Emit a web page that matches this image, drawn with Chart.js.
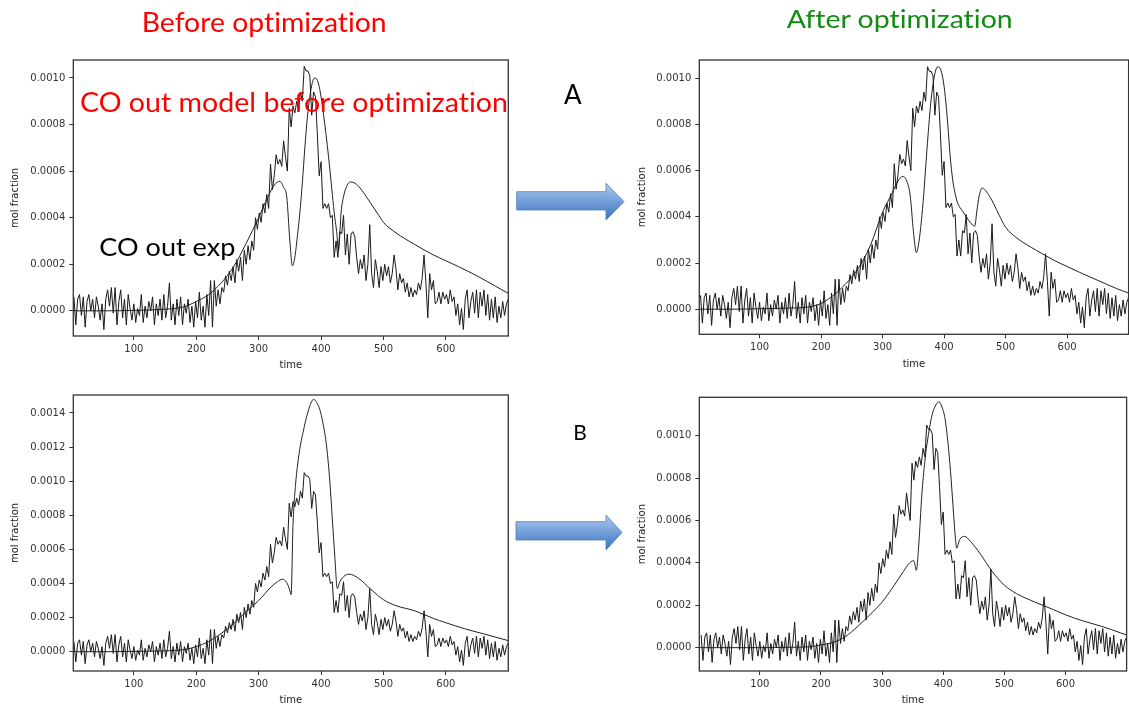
<!DOCTYPE html>
<html lang="en">
<head>
<meta charset="UTF-8">
<title>CO out model before / after optimization</title>
<script src="https://cdn.jsdelivr.net/npm/chart.js"></script>
<style>
  body { margin: 0; background: #fff; overflow: hidden; }
  #page { position: relative; width: 1129px; height: 707px; overflow: hidden; background: #fff; }
  canvas { position: absolute; }
  svg { position: absolute; left: 0; top: 0; pointer-events: none; }
  svg text { font-family: Lato, "Open Sans", sans-serif; font-variant-ligatures: none; font-feature-settings: "liga" 0; }
</style>
</head>
<body>
<div id="page">
  <canvas id="chartA1" width="520" height="330" style="left:0;top:50px"></canvas>
  <canvas id="chartA2" width="540" height="330" style="left:600px;top:50px"></canvas>
  <canvas id="chartB1" width="520" height="322" style="left:0;top:385px"></canvas>
  <canvas id="chartB2" width="540" height="322" style="left:600px;top:385px"></canvas>

  <svg width="1129" height="707">
    <defs>
      <linearGradient id="arrowFill" x1="0" y1="0" x2="0" y2="1">
        <stop offset="0" stop-color="#b0cbee"/>
        <stop offset="0.45" stop-color="#77a2dc"/>
        <stop offset="1" stop-color="#3e72bb"/>
      </linearGradient>
    </defs>
    <path d="M516.7,191.7 H606 V183.3 L624,201.7 L606,220 V210 H516.7 Z" fill="url(#arrowFill)" stroke="#4a7ebb" stroke-width="0.8"/>
    <path d="M516,521.7 H606 V515 L622,532.5 L606,550 V540 H516 Z" fill="url(#arrowFill)" stroke="#4a7ebb" stroke-width="0.8"/>

    <text x="141.7" y="32.3" font-size="27" fill="#ff0000" textLength="245" lengthAdjust="spacingAndGlyphs">Before optimization</text>
    <text x="786.7" y="28.3" font-size="25" fill="#108c10" textLength="226" lengthAdjust="spacingAndGlyphs">After optimization</text>
    <text x="80" y="111.7" font-size="26" fill="#ff0000" textLength="428" lengthAdjust="spacingAndGlyphs">CO out model before optimization</text>
    <text x="99.3" y="256" font-size="25" fill="#000" textLength="136" lengthAdjust="spacingAndGlyphs">CO out exp</text>
    <text x="564" y="104" font-size="26" fill="#000">A</text>
    <text x="573.3" y="440" font-size="21" fill="#000">B</text>
  </svg>
</div>

<script>
  // CO out exp, mol fraction x 1e-4, one reading every 3 time units from t = 4
  const expStart = 4;
  const expStep = 3;
  const coOutExp = [
    0.6, -0.6, 0.5, 0.7, -0.2, 0.6, -0.7, 0.4, 0.7, 0.0,
    0.5, -0.3, 0.6, 0.2, -0.4, 0.3, -0.8, 0.5, 0.9, 0.2,
    1.0, -0.1, 1.0, -0.6, 0.4, 0.9, -0.3, 0.5, -0.6, 0.7,
    0.1, -0.4, 0.3, -0.5, 0.1, -0.2, 0.7, -0.5, 0.2, -0.3,
    0.4, 0.0, 0.6, -0.6, 0.3, -0.2, 0.5, -0.4, 0.7, -0.3,
    0.2, 1.2, -0.4, 0.3, -0.6, 0.5, -0.2, 0.6, -0.6, 0.3,
    -0.1, 0.5, -0.5, 0.2, -0.7, 0.4, -0.3, 0.8, -0.4, 0.2,
    -0.7, 0.7, -0.2, 1.3, -0.7, 1.3, 0.2, 0.9, 0.3, 1.0,
    0.8, 1.5, 1.1, 1.7, 1.3, 1.9, 1.2, 2.2, 1.7, 2.3,
    1.3, 2.6, 2.0, 2.8, 2.2, 3.0, 2.6, 4.0, 3.5, 4.2,
    3.8, 4.6, 4.2, 5.0, 4.4, 6.3, 5.2, 5.8, 6.7, 6.3,
    6.5, 6.2, 7.3, 6.6, 6.0, 8.7, 7.9, 8.8, 8.5, 9.0,
    8.6, 9.4, 9.0, 10.5, 10.3, 10.3, 10.1, 8.4, 9.4, 9.2,
    7.6, 5.8, 6.4, 4.4, 4.6, 4.4, 4.6, 4.0, 4.1, 2.3,
    3.0, 2.3, 3.4, 3.3, 4.1, 2.4, 3.3, 2.0, 3.3, 3.4,
    3.2, 2.3, 1.6, 2.2, 1.8, 2.4, 1.3, 2.0, 3.7, 1.6,
    1.0, 2.2, 1.7, 1.0, 1.9, 1.3, 2.0, 1.5, 1.9, 1.2,
    1.6, 2.4, 1.8, 0.9, 1.6, 1.2, 1.4, 0.8, 1.2, 0.6,
    1.0, 0.6, 0.9, 0.7, 1.2, 0.9, 1.4, 2.4, 1.2, -0.3,
    1.6, 0.9, 1.3, 0.3, 0.4, 0.8, 0.3, 0.8, 0.5, 0.7,
    0.3, 0.9, 0.4, 0.6, -0.2, 0.3, -0.6, 0.1, -0.8, 0.5,
    0.9, -0.3, 0.4, 0.8, -0.1, 0.9, -0.3, 0.8, 0.2, 0.9,
    -0.2, 0.7, -0.4, 0.5, -0.3, 0.6, -0.5, 0.2, -0.3, 0.4,
    -0.2, 0.3, 0.5
  ];

  // model curves, mol fraction x 1e-4
  const modelA1Time = [3, 50, 100, 150, 180, 200, 220, 240, 260, 280, 300, 315, 325, 334, 340, 345, 350, 354, 358, 362,
    366, 370, 374, 378, 382, 386, 390, 394, 398, 402, 406, 410, 414, 418, 422, 425, 428, 430, 432, 436,
    441, 447, 453, 460, 470, 480, 490, 500, 520, 550, 580, 600, 620, 650, 680, 700];
  const modelA1 = [0, 0, 0.02, 0.07, 0.17, 0.4, 0.7, 1.2, 1.9, 2.9, 4.0, 4.9, 5.4, 5.56, 5.3, 4.9, 3.0, 1.93, 2.3, 3.2,
    4.2, 5.5, 7.0, 8.3, 9.2, 9.8, 10.0, 9.9, 9.5, 8.8, 8.0, 7.1, 6.1, 5.0, 4.0, 3.4, 2.6, 3.3, 4.2, 4.9,
    5.35, 5.53, 5.5, 5.35, 5.0, 4.6, 4.2, 3.8, 3.35, 2.85, 2.4, 2.15, 1.9, 1.5, 1.05, 0.75];

  const modelA2Time = [2, 50, 100, 150, 180, 200, 220, 240, 260, 280, 300, 315, 325, 333, 340, 345, 350, 355, 359, 363,
    367, 371, 375, 379, 383, 387, 390, 394, 398, 402, 406, 410, 414, 418, 422, 430, 440, 446, 450, 453,
    457, 462, 470, 480, 490, 500, 520, 550, 580, 600, 620, 650, 680, 700];
  const modelA2 = [0, 0, 0.02, 0.05, 0.1, 0.25, 0.6, 1.1, 1.75, 2.75, 4.2, 5.0, 5.55, 5.75, 5.5, 4.9, 3.4, 2.45, 2.9, 3.8,
    5.0, 6.5, 7.9, 9.1, 9.9, 10.4, 10.5, 10.4, 10.0, 9.2, 8.0, 6.6, 5.6, 5.0, 4.6, 4.25, 3.85, 3.65, 3.6, 4.2,
    4.9, 5.25, 5.05, 4.6, 4.05, 3.55, 3.05, 2.55, 2.1, 1.85, 1.6, 1.25, 0.9, 0.7];

  const modelB1Time = [3, 50, 100, 150, 180, 200, 220, 240, 260, 280, 300, 320, 330, 338, 345, 349, 352, 355, 359, 366,
    372, 377, 383, 388, 393, 398, 403, 409, 414, 418, 422, 426, 430, 436, 445, 460, 480, 500, 520, 550,
    580, 600, 630, 660, 700];
  const modelB1 = [0, 0, 0.02, 0.05, 0.12, 0.3, 0.6, 1.07, 1.65, 2.35, 3.0, 3.8, 4.1, 4.25, 4.05, 3.7, 3.35, 7.4, 9.75, 11.9,
    13.0, 13.8, 14.5, 14.8, 14.6, 14.2, 13.4, 12.0, 10.0, 7.8, 5.6, 3.7, 4.1, 4.4, 4.55, 4.3, 3.65, 3.05, 2.7, 2.4,
    1.95, 1.7, 1.35, 1.05, 0.65];

  const modelB2Time = [1, 50, 100, 150, 180, 200, 220, 240, 260, 280, 300, 320, 335, 345, 352, 356, 360, 365, 370, 375,
    382, 388, 393, 398, 403, 408, 412, 416, 420, 422, 427, 435, 445, 460, 480, 500, 520, 550, 580, 600,
    630, 660, 690, 700];
  const modelB2 = [0, 0, 0, 0.02, 0.04, 0.13, 0.25, 0.52, 1.0, 1.55, 2.15, 2.95, 3.6, 4.0, 4.1, 3.65, 4.85, 7.2, 8.8, 9.9,
    11.0, 11.45, 11.6, 11.35, 10.8, 9.6, 8.3, 6.7, 5.15, 4.7, 5.1, 5.25, 5.0, 4.45, 3.6, 2.95, 2.55, 2.15, 1.8, 1.55,
    1.25, 1.0, 0.7, 0.6];

  const xTicks = [100, 200, 300, 400, 500, 600];
  const yTicksTo10 = [0, 0.0002, 0.0004, 0.0006, 0.0008, 0.0010];
  const yTicksTo14 = [0, 0.0002, 0.0004, 0.0006, 0.0008, 0.0010, 0.0012, 0.0014];

  const tickFont = { family: 'DejaVu Sans', size: 10 };

  function toPoints(times, vals) {
    return vals.map((v, i) => ({ x: times[i], y: v * 1e-4 }));
  }
  const expPoints = coOutExp.map((v, i) => ({ x: expStart + expStep * i, y: v * 1e-4 }));

  // box round the plot area
  const frame = {
    id: 'frame',
    afterDatasetsDraw(chart) {
      const { ctx, chartArea: a } = chart;
      ctx.save();
      ctx.strokeStyle = '#333';
      ctx.lineWidth = 1.3;
      ctx.strokeRect(a.left, a.top, a.right - a.left, a.bottom - a.top);
      ctx.restore();
    }
  };

  function makeChart(id, model, c) {
    return new Chart(document.getElementById(id), {
      type: 'scatter',
      data: {
        datasets: [
          { label: 'CO out exp', data: expPoints, showLine: true, borderColor: '#1a1a1a',
            borderWidth: 1, pointRadius: 0 },
          { label: 'CO out model', data: model, showLine: true, borderColor: '#222',
            borderWidth: 1, pointRadius: 0, cubicInterpolationMode: 'monotone' }
        ]
      },
      options: {
        responsive: false,
        animation: false,
        events: [],
        layout: { padding: c.pad },
        plugins: { legend: { display: false }, tooltip: { enabled: false } },
        scales: {
          x: {
            type: 'linear', min: c.xMin, max: 700,
            afterBuildTicks: s => { s.ticks = xTicks.map(v => ({ value: v })); },
            afterFit: s => { s.height = c.xH; },
            ticks: { font: tickFont, color: '#333', padding: 3, maxRotation: 0 },
            grid: { drawOnChartArea: false, tickLength: 4, color: '#333' },
            border: { display: false },
            title: { display: true, text: 'time', font: tickFont, color: '#222',
                     padding: { top: 0, bottom: c.xTitlePad } }
          },
          y: {
            min: c.yMin, max: c.yMax,
            afterBuildTicks: s => { s.ticks = c.yTicks.map(v => ({ value: v })); },
            afterFit: s => { s.width = c.yW; },
            ticks: { font: tickFont, color: '#333', padding: 4, callback: v => v.toFixed(4) },
            grid: { drawOnChartArea: false, tickLength: 4, color: '#333' },
            border: { display: false },
            title: { display: true, text: 'mol fraction', font: tickFont, color: '#222',
                     padding: { top: c.yTitlePad, bottom: 0 } }
          }
        }
      },
      plugins: [frame]
    });
  }

  makeChart('chartA1', toPoints(modelA1Time, modelA1), {
    pad: { top: 9.3, right: 11.7, left: 0, bottom: 0 }, xH: 44, yW: 73.3,
    xMin: 3, yMin: -0.000108, yMax: 0.001077, yTicks: yTicksTo10, xTitlePad: 9, yTitlePad: 9
  });
  makeChart('chartA2', toPoints(modelA2Time, modelA2), {
    pad: { top: 7.3, right: 11.4, left: 0, bottom: 0 }, xH: 45.7, yW: 99.3,
    xMin: 2, yMin: -0.0001086, yMax: 0.001079, yTicks: yTicksTo10, xTitlePad: 10, yTitlePad: 36.7
  });
  makeChart('chartB1', toPoints(modelB1Time, modelB1), {
    pad: { top: 9.3, right: 11.7, left: 0, bottom: 0 }, xH: 36, yW: 73.3,
    xMin: 3, yMin: -0.000113, yMax: 0.001505, yTicks: yTicksTo14, xTitlePad: 1, yTitlePad: 9
  });
  makeChart('chartB2', toPoints(modelB2Time, modelB2), {
    pad: { top: 12.3, right: 13.4, left: 0, bottom: 0 }, xH: 36, yW: 99.3,
    xMin: 1, yMin: -0.00011, yMax: 0.001181, yTicks: yTicksTo10, xTitlePad: 1, yTitlePad: 36.7
  });
</script>
</body>
</html>
